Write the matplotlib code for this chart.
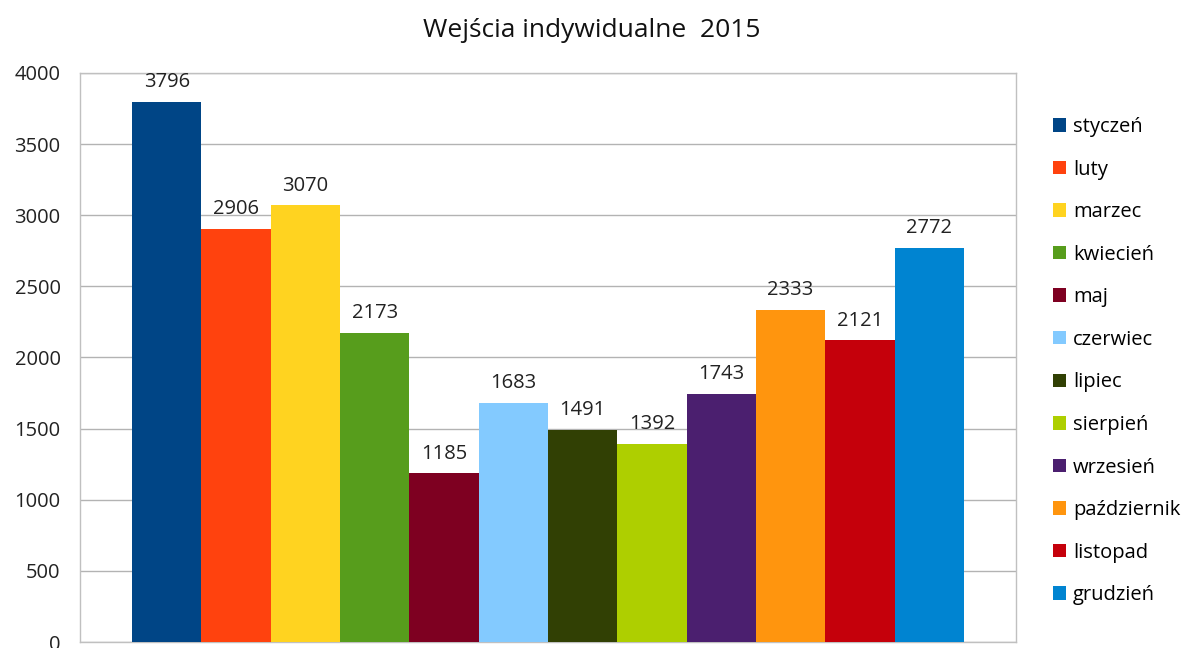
import matplotlib
matplotlib.use('Agg')
import matplotlib.pyplot as plt
from matplotlib.patches import Patch

months = ['styczeń', 'luty', 'marzec', 'kwiecień', 'maj', 'czerwiec',
          'lipiec', 'sierpień', 'wrzesień', 'październik', 'listopad', 'grudzień']
values = [3796, 2906, 3070, 2173, 1185, 1683, 1491, 1392, 1743, 2333, 2121, 2772]
colors = ['#004586', '#ff420e', '#ffd320', '#579d1c', '#7e0021', '#83caff',
          '#314004', '#aecf00', '#4b1f6f', '#ff950e', '#c5000b', '#0084d1']
yticks = [0, 500, 1000, 1500, 2000, 2500, 3000, 3500, 4000]

plt.rcParams['font.family'] = ['Open Sans', 'DejaVu Sans']

fig = plt.figure(figsize=(11.84, 6.48), dpi=100)
ax = fig.add_axes([80 / 1184, 6 / 648, 936 / 1184, 569 / 648])

x = list(range(len(values)))
bars = ax.bar(x, values, width=1.0, color=colors, zorder=3)
for xi, v in zip(x, values):
    ax.annotate(str(v), (xi, v), xytext=(0, 7), textcoords='offset points',
                ha='center', va='bottom', fontsize=14.5, color='#222222')

ax.set_xlim(-1.25, 12.25)
ax.set_ylim(0, 4000)
ax.set_yticks(yticks)
ax.set_xticks([])
ax.yaxis.grid(True, color='#b3b3b3', linewidth=1, zorder=0)
ax.tick_params(axis='y', length=0, labelsize=14.5, pad=14, colors='#222222')
for s in ax.spines.values():
    s.set_color('#c0c0c0')
    s.set_linewidth(1)

fig.suptitle('Wejścia indywidualne  2015', y=0.972, fontsize=19, color='#111111')

handles = [Patch(facecolor=c, label=m) for c, m in zip(colors, months)]
fig.legend(handles=handles, loc='upper left', bbox_to_anchor=(1043 / 1184, 1 - 107 / 648),
           frameon=False, fontsize=14.5, handlelength=0.65, handleheight=0.65,
           handletextpad=0.35, labelspacing=1.12, borderpad=0)

fig.savefig('out.png', dpi=100)
